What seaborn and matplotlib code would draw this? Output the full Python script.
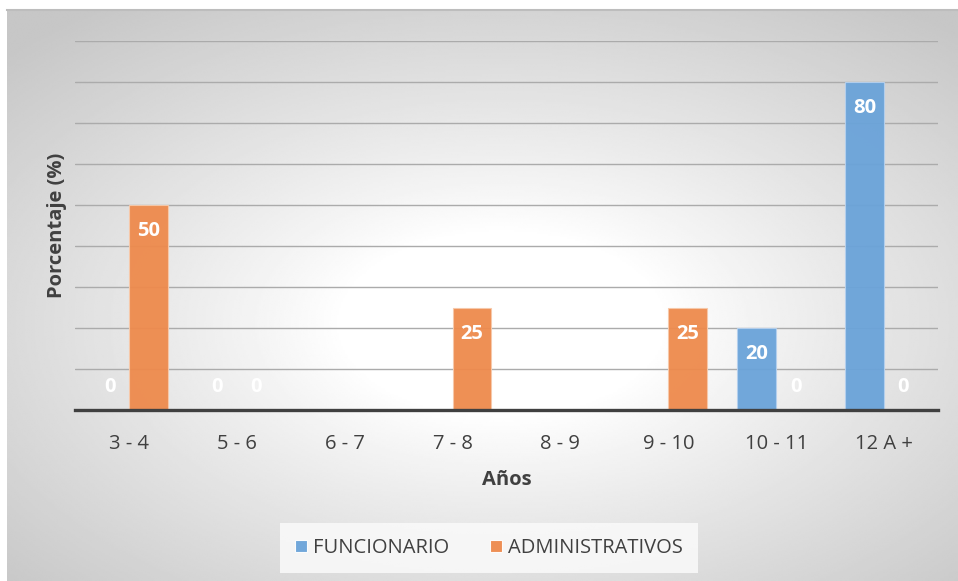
import numpy as np
import pandas as pd
import matplotlib
matplotlib.use("Agg")
import matplotlib.pyplot as plt
import seaborn as sns

# --- datos ---
categorias = ["3 - 4", "5 - 6", "6 - 7", "7 - 8", "8 - 9", "9 - 10", "10 - 11", "12 A +"]
funcionario = [0, 0, np.nan, np.nan, np.nan, np.nan, 20, 80]
administrativos = [50, 0, np.nan, 25, np.nan, 25, 0, 0]
series = ["FUNCIONARIO", "ADMINISTRATIVOS"]
colores = ["#6AA3D9", "#EE8A4C"]

df = pd.DataFrame({
    "Años": categorias * 2,
    "valor": funcionario + administrativos,
    "grupo": [series[0]] * len(categorias) + [series[1]] * len(categorias),
})

sns.set_style("white")
plt.rcParams["font.family"] = ["Open Sans", "DejaVu Sans"]
FS = 14.5

W, H = 958, 581
fig = plt.figure(figsize=(W / 100, H / 100), dpi=100)
fig.patch.set_facecolor("white")

# fondo con degradado radial (marco del grafico)
bg = fig.add_axes([7 / W, 0, (W - 7) / W, (H - 10) / H])
yy, xx = np.mgrid[-1:1:300j, -1:1:500j]
r = np.sqrt(((xx - 0.04) / 1.05) ** 2 + ((yy - 0.1) / 1.0) ** 2)
shade = 1 - 0.22 * np.clip((r - 0.32) / 1.05, 0, 1) ** 0.9
bg.imshow(shade, cmap="gray", vmin=0, vmax=1, aspect="auto", extent=(0, 1, 0, 1),
          interpolation="bilinear")
bg.set_xticks([])
bg.set_yticks([])
for s in bg.spines.values():
    s.set_visible(False)
bg.spines["top"].set_visible(True)
bg.spines["top"].set_color("#bdbdbd")
bg.spines["top"].set_linewidth(1.5)
bg.set_zorder(-10)

ax = fig.add_axes([75 / W, (H - 410) / H, 863 / W, (410 - 41) / H])
ax.set_facecolor("none")

sns.barplot(data=df, x="Años", y="valor", hue="grupo", hue_order=series,
            palette=colores, saturation=1, width=0.72, alpha=0.95, linewidth=0.8,
            ax=ax, order=categorias, errorbar=None)

# bordes de barras segun color
for cont, col in zip(ax.containers, ["#b5d0ee", "#f7c9aa"]):
    for p in cont.patches:
        p.set_edgecolor(col)

# etiquetas de datos
for cont in ax.containers:
    for p in cont.patches:
        h = p.get_height()
        if np.isnan(h):
            continue
        x = p.get_x() + p.get_width() / 2
        off = -19 if h > 0 else 16.5
        ax.annotate(f"{h:.0f}", xy=(x, h), xytext=(0, off), textcoords="offset points",
                    ha="center", va="center", color="white", fontsize=FS,
                    fontweight="bold")

ax.set_ylim(0, 90)
ax.set_yticks(range(0, 100, 10))
ax.set_yticklabels([])
ax.tick_params(axis="y", length=0)
ax.yaxis.grid(True, color="#ababab", linewidth=1)
ax.set_axisbelow(True)
sns.despine(ax=ax, left=True, top=True, right=True)
ax.spines["bottom"].set_color("#404040")
ax.spines["bottom"].set_linewidth(2.4)
ax.tick_params(axis="x", length=0, pad=17, labelsize=FS, labelcolor="#404040")

ax.set_xlabel("Años", fontsize=FS, fontweight="bold", color="#404040", labelpad=12)
ax.set_ylabel("Porcentaje (%)", fontsize=FS, fontweight="bold", color="#404040")
ax.yaxis.set_label_coords(-0.009, 0.5)

handles, labels = ax.get_legend_handles_labels()
ax.get_legend().remove()
leg = fig.legend(handles, labels, loc="center", bbox_to_anchor=(489 / W, 1 - 548 / H),
                 ncol=2, frameon=True, fontsize=FS, handlelength=0.6, handleheight=0.6,
                 handletextpad=0.3, columnspacing=2.0, borderpad=0.75, fancybox=False)
leg.get_frame().set_facecolor("#fafafa")
leg.get_frame().set_edgecolor("none")
leg.get_frame().set_alpha(0.85)
for t in leg.get_texts():
    t.set_color("#404040")

fig.savefig("out.png", dpi=100)
